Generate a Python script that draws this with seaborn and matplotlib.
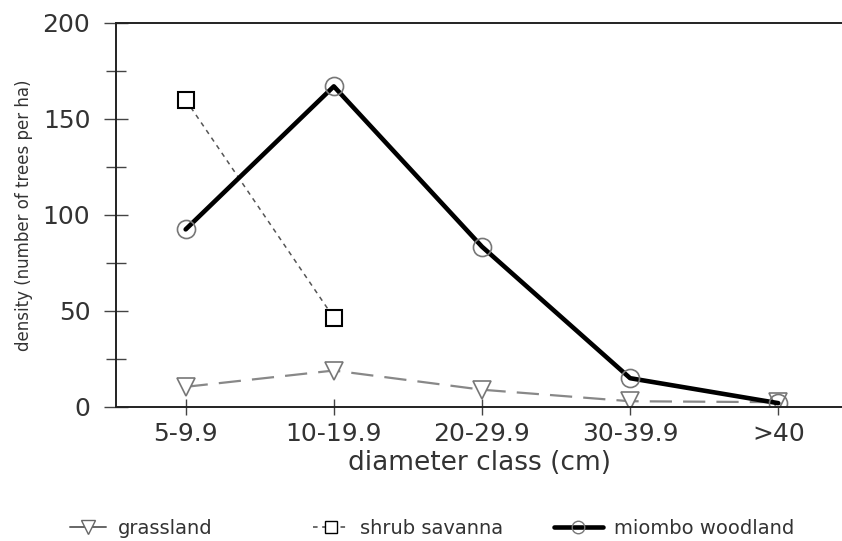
import matplotlib
matplotlib.use('Agg')
import matplotlib.pyplot as plt
import seaborn as sns
import pandas as pd
from matplotlib.lines import Line2D

classes = ['5-9.9', '10-19.9', '20-29.9', '30-39.9', '>40']
grassland = [10.5, 19, 9, 3, 2.5]
shrub_savanna = [160, 46.5]
miombo_woodland = [92.5, 167, 83.5, 15, 2]

sns.set_style('white')
plt.rcParams['font.family'] = ['DejaVu Sans']
plt.rcParams['xtick.bottom'] = True
plt.rcParams['ytick.left'] = True

fig = plt.figure(figsize=(8.42, 5.41), dpi=100)
ax = fig.add_axes([0.1378, 0.2477, 0.8622, 0.7098])

grass_df = pd.DataFrame({'cls': classes, 'density': grassland})
shrub_df = pd.DataFrame({'cls': classes[:len(shrub_savanna)], 'density': shrub_savanna})
miombo_df = pd.DataFrame({'cls': classes, 'density': miombo_woodland})

sns.lineplot(data=grass_df, x='cls', y='density', ax=ax, color='#888888', lw=1.6,
             linestyle=(0, (10, 5)), marker='v', markersize=13,
             markerfacecolor='white', markeredgecolor='#777777', markeredgewidth=1.2)
sns.lineplot(data=shrub_df, x='cls', y='density', ax=ax, color='#555555', lw=1.1,
             linestyle=(0, (3, 3)), marker='s', markersize=12,
             markerfacecolor='white', markeredgecolor='black', markeredgewidth=1.5)
sns.lineplot(data=miombo_df, x='cls', y='density', ax=ax, color='black', lw=3.3,
             marker='o', markersize=13, markerfacecolor='none',
             markeredgecolor='#777777', markeredgewidth=1.2)

ax.set_xlim(-0.47, 4.43)
ax.set_ylim(0, 200)
ax.set_yticks([0, 50, 100, 150, 200])
ax.set_yticks([25, 75, 125, 175], minor=True)
ax.tick_params(axis='y', which='major', direction='inout', length=17, width=1,
               labelsize=18, pad=10, color='#444444', labelcolor='#333333')
ax.tick_params(axis='y', which='minor', direction='inout', length=14, width=1,
               color='#444444')
ax.tick_params(axis='x', direction='inout', length=11, width=1, labelsize=18, pad=5,
               color='#444444', labelcolor='#333333')

ax.spines['right'].set_visible(False)
for s in ['left', 'top', 'bottom']:
    ax.spines[s].set_color('#222222')
    ax.spines[s].set_linewidth(1.4)

ax.set_xlabel('diameter class (cm)', fontsize=19, color='#333333', labelpad=3)
ax.set_ylabel('density (number of trees per ha)', fontsize=12, color='#333333', labelpad=7)

entries = [
    ('grassland', 0.083, 1.85,
     Line2D([], [], color='#666666', lw=1.4, marker='v', markersize=10,
            markerfacecolor='white', markeredgecolor='#666666')),
    ('shrub savanna', 0.372, 1.8,
     Line2D([], [], color='#444444', lw=1.1, linestyle=(0, (3, 3)), marker='s',
            markersize=9, markerfacecolor='white', markeredgecolor='black')),
    ('miombo woodland', 0.658, 2.5,
     Line2D([], [], color='black', lw=3.3, marker='o', markersize=9,
            markerfacecolor='none', markeredgecolor='#777777')),
]
for label, xpos, hlen, handle in entries:
    fig.legend([handle], [label], loc='center left', bbox_to_anchor=(xpos, 0.024),
               frameon=False, fontsize=14, handlelength=hlen, handletextpad=0.6,
               borderpad=0, borderaxespad=0, labelcolor='#333333')

fig.savefig('out.png', dpi=100)
